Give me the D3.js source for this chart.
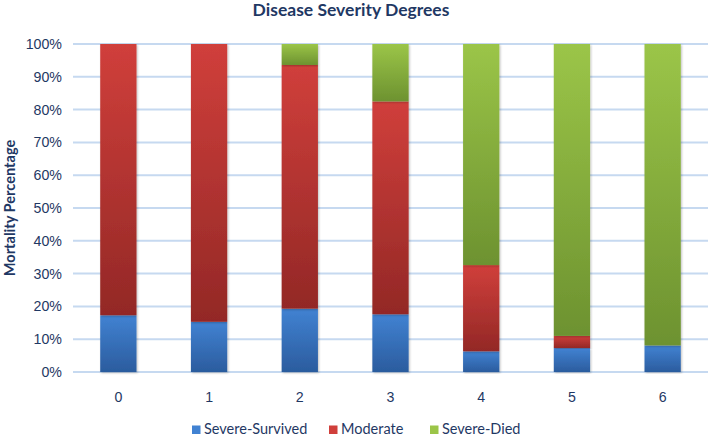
<!DOCTYPE html>
<html>
<head>
<meta charset="utf-8">
<script src="https://cdn.jsdelivr.net/npm/d3@7"></script>
<style>
  body { margin: 0; background: #fff; }
  svg { display: block; font-family: Lato, "Open Sans", sans-serif; }
  .tick text { fill: #1f3864; }
</style>
</head>
<body>
<svg width="709" height="436"></svg>
<script>
// chart data
var categories = ["0", "1", "2", "3", "4", "5", "6"];
var severeSurvived = [17.3, 15.3, 19.3, 17.6, 6.3, 7.3, 8.1];
var moderate = [82.7, 84.7, 74.3, 64.9, 26.3, 3.7, 0];
var severeDied = [0, 0, 6.4, 17.5, 67.4, 89.0, 91.9];
var yTicks = [0, 10, 20, 30, 40, 50, 60, 70, 80, 90, 100];
var seriesNames = ["Severe-Survived", "Moderate", "Severe-Died"];

var svg = d3.select("svg"),
    margin = {top: 44, right: 1, bottom: 64, left: 73},
    width = 709 - margin.left - margin.right,
    height = 436 - margin.top - margin.bottom,
    navy = "#1f3864";

var colors = {
    "Severe-Survived": ["#4182d2", "#2b5c9e"],
    "Moderate": ["#d03f3b", "#932826"],
    "Severe-Died": ["#9bc548", "#6d9230"]
};

var defs = svg.append("defs");
seriesNames.forEach(function(name, i) {
    var grad = defs.append("linearGradient")
        .attr("id", "grad" + i)
        .attr("x1", 0).attr("y1", 0).attr("x2", 0).attr("y2", 1);
    grad.append("stop").attr("offset", "0%").attr("stop-color", colors[name][0]);
    grad.append("stop").attr("offset", "100%").attr("stop-color", colors[name][1]);
});
var shadow = defs.append("filter").attr("id", "shadow")
    .attr("x", "-20%").attr("y", "-5%").attr("width", "140%").attr("height", "110%");
shadow.append("feDropShadow")
    .attr("dx", 1).attr("dy", 1).attr("stdDeviation", 1)
    .attr("flood-color", "#000").attr("flood-opacity", 0.25);

var rows = categories.map(function(c, i) {
    return {cat: c, "Severe-Survived": severeSurvived[i], "Moderate": moderate[i], "Severe-Died": severeDied[i]};
});
var stacked = d3.stack().keys(seriesNames)(rows);

var x = d3.scaleBand().domain(categories).range([0, width]).paddingInner(0.6).paddingOuter(0.3),
    y = d3.scaleLinear().domain([0, 100]).range([height, 0]);

var g = svg.append("g").attr("transform", "translate(" + margin.left + "," + margin.top + ")");

// gridlines
g.append("g")
    .selectAll("line")
    .data(yTicks)
    .enter().append("line")
        .attr("x1", 0)
        .attr("x2", width)
        .attr("y1", function(d) { return y(d); })
        .attr("y2", function(d) { return y(d); })
        .attr("stroke", "#c6d9f0")
        .attr("stroke-width", 2);

// y axis
var yAxis = g.append("g")
    .call(d3.axisLeft(y).tickValues(yTicks).tickSize(0).tickPadding(11)
        .tickFormat(function(d) { return d + "%"; }));
yAxis.select(".domain").remove();
yAxis.selectAll("text").attr("font-size", 14.2).attr("fill", navy);

// x axis
var xAxis = g.append("g")
    .attr("transform", "translate(0," + height + ")")
    .call(d3.axisBottom(x).tickSize(0).tickPadding(20));
xAxis.select(".domain").remove();
xAxis.selectAll("text").attr("font-size", 14.2).attr("fill", navy);

// stacked bars
g.append("g").selectAll("g")
    .data(stacked)
    .enter().append("g")
        .attr("fill", function(d, i) { return "url(#grad" + i + ")"; })
    .selectAll("rect")
    .data(function(d) { return d.filter(function(p) { return p[1] - p[0] > 0; }); })
    .enter().append("rect")
        .attr("x", function(d) { return x(d.data.cat); })
        .attr("y", function(d) { return y(d[1]); })
        .attr("width", x.bandwidth())
        .attr("height", function(d) { return y(d[0]) - y(d[1]); })
        .attr("filter", "url(#shadow)");

// title
svg.append("text")
    .attr("x", 351)
    .attr("y", 16)
    .attr("text-anchor", "middle")
    .attr("font-size", 17.5)
    .attr("font-weight", "bold")
    .attr("fill", navy)
    .text("Disease Severity Degrees");

// y label
svg.append("text")
    .attr("transform", "translate(15," + (margin.top + height / 2) + ") rotate(-90)")
    .attr("text-anchor", "middle")
    .attr("font-size", 14.6)
    .attr("font-weight", "bold")
    .attr("fill", navy)
    .text("Mortality Percentage");

// legend
var legendX = [192, 329, 430];
var legend = svg.append("g").selectAll("g")
    .data(seriesNames)
    .enter().append("g")
        .attr("transform", function(d, i) { return "translate(" + legendX[i] + ",434)"; });
legend.append("rect")
    .attr("x", 0).attr("y", -8.5)
    .attr("width", 8.5).attr("height", 8.5)
    .attr("fill", function(d) { return colors[d][0]; });
legend.append("text")
    .attr("x", 12)
    .attr("y", 0)
    .attr("font-size", 14.5)
    .attr("fill", navy)
    .text(function(d) { return d; });
</script>
</body>
</html>
